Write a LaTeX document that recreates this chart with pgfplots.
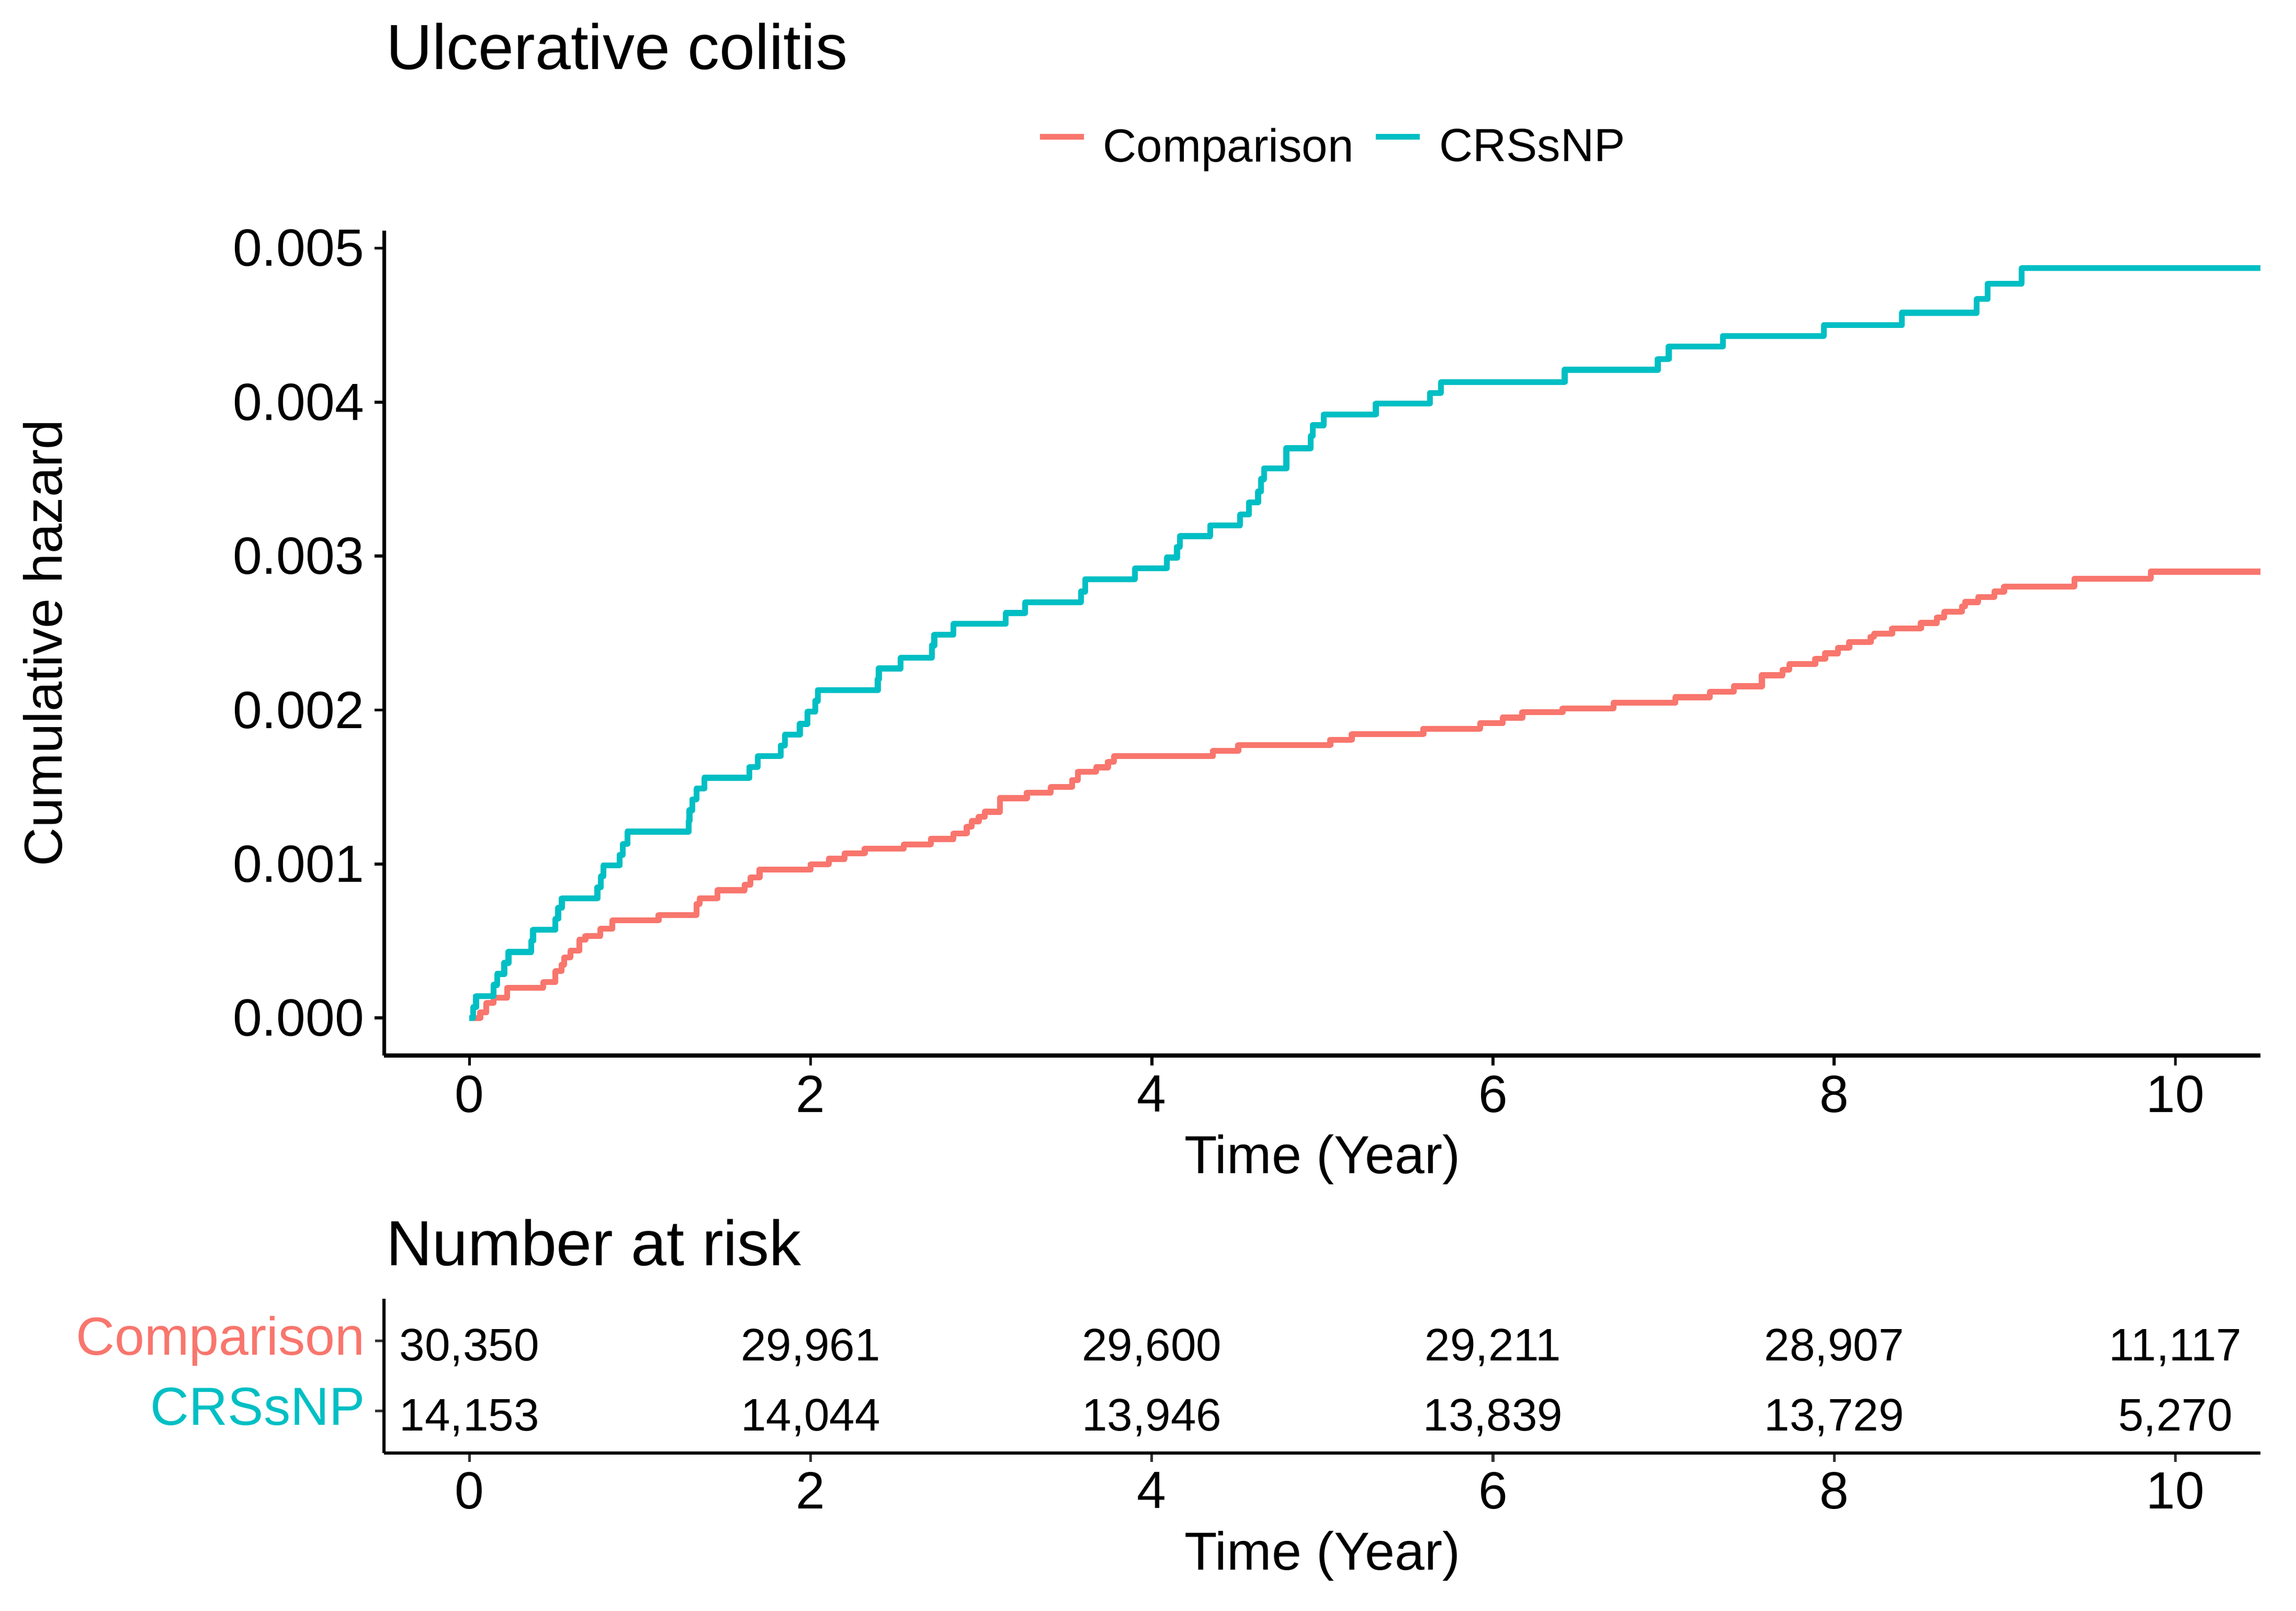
\documentclass[border=0pt]{standalone}
\usepackage{fontspec}
\setmainfont{Liberation Sans}
\usepackage{pgfplots}
\usepackage{pgfplotstable}
\pgfplotsset{compat=1.18}

\definecolor{cmpred}{HTML}{F8766D}
\definecolor{crsteal}{HTML}{00BFC4}

% cumulative hazard, comparison group (step values after each jump)
\pgfplotstableread{
t h
0 0
0.063 0.000036
0.099 0.000097
0.141 0.000132
0.222 0.000197
0.433 0.000233
0.504 0.000304
0.539 0.000347
0.556 0.000394
0.592 0.000437
0.644 0.000508
0.680 0.000533
0.768 0.000580
0.838 0.000634
1.109 0.000669
1.331 0.000741
1.349 0.000777
1.454 0.000830
1.613 0.000866
1.648 0.000913
1.701 0.000963
2.000 0.000999
2.106 0.001034
2.200 0.001070
2.317 0.001099
2.546 0.001127
2.704 0.001163
2.838 0.001199
2.915 0.001242
2.944 0.001278
2.986 0.001306
3.021 0.001339
3.109 0.001428
3.268 0.001464
3.408 0.001500
3.532 0.001546
3.567 0.001600
3.673 0.001628
3.743 0.001664
3.778 0.001700
4.359 0.001736
4.507 0.001772
5.046 0.001807
5.172 0.001843
5.592 0.001879
5.924 0.001915
6.057 0.001951
6.172 0.001986
6.408 0.002011
6.706 0.002047
7.069 0.002083
7.271 0.002119
7.412 0.002155
7.576 0.002226
7.698 0.002262
7.737 0.002298
7.889 0.002334
7.947 0.002369
8.023 0.002405
8.088 0.002441
8.214 0.002477
8.233 0.002495
8.340 0.002530
8.508 0.002566
8.603 0.002602
8.645 0.002638
8.748 0.002674
8.767 0.002702
8.844 0.002734
8.939 0.002770
8.996 0.002802
9.408 0.002853
9.855 0.002899
10.5 0.002899
}\comparison

% cumulative hazard, CRSsNP group
\pgfplotstableread{
t h
0 0
0.021 0.000070
0.039 0.000143
0.141 0.000215
0.162 0.000286
0.204 0.000358
0.229 0.000429
0.363 0.000501
0.373 0.000573
0.504 0.000644
0.520 0.000716
0.542 0.000777
0.750 0.000848
0.770 0.000920
0.785 0.000991
0.880 0.001060
0.900 0.001130
0.926 0.001210
1.285 0.001280
1.290 0.001350
1.306 0.001420
1.331 0.001490
1.377 0.001560
1.641 0.001630
1.690 0.001700
1.824 0.001770
1.849 0.001840
1.937 0.001910
1.982 0.001990
2.028 0.002060
2.042 0.002130
2.394 0.002200
2.400 0.002270
2.528 0.002340
2.711 0.002420
2.725 0.002490
2.838 0.002560
3.144 0.002630
3.257 0.002700
3.585 0.002770
3.609 0.002850
3.901 0.002920
4.088 0.002990
4.148 0.003060
4.165 0.003130
4.342 0.003200
4.518 0.003270
4.570 0.003350
4.623 0.003420
4.641 0.003500
4.658 0.003570
4.789 0.003700
4.931 0.003780
4.943 0.003850
5.008 0.003920
5.313 0.003990
5.630 0.004060
5.695 0.004130
6.420 0.004210
6.966 0.004280
7.030 0.004360
7.347 0.004430
7.939 0.004500
8.397 0.004580
8.836 0.004670
8.900 0.004770
9.099 0.004870
10.5 0.004870
}\crssnp

% number at risk (row 2 = Comparison, row 1 = CRSsNP)
\pgfplotstableread{
t row n
0 2 30,350
2 2 29,961
4 2 29,600
6 2 29,211
8 2 28,907
10 2 11,117
0 1 14,153
2 1 14,044
4 1 13,946
6 1 13,839
8 1 13,729
10 1 5,270
}\risk

\newcommand\ticksize{\fontsize{17.8}{20}\selectfont}
\newcommand\labsize{\fontsize{18.2}{21}\selectfont}
\newcommand\titsize{\fontsize{21.7}{24}\selectfont}

\begin{document}
\begin{tikzpicture}
\begin{axis}[
    name=main,
    scale only axis,
    width=637.5pt, height=280.3pt,
    xmin=-0.5, xmax=10.5,
    ymin=-0.000244, ymax=0.005114,
    axis lines=left,
    axis line style={-, line width=1.3pt},
    tick align=outside,
    major tick length=3.3pt,
    tick style={line width=1pt, black},
    xtick={0,2,4,6,8,10},
    ytick={0,0.001,0.002,0.003,0.004,0.005},
    scaled y ticks=false,
    /pgf/number format/assume math mode=true,
    yticklabel style={/pgf/number format/fixed,
        /pgf/number format/fixed zerofill,
        /pgf/number format/precision=3},
    tick label style={font=\ticksize},
    xlabel={Time (Year)},
    ylabel={Cumulative hazard},
    label style={font=\labsize},
    xlabel style={at={(axis description cs:0.5,0)}, anchor=base, yshift=-40pt},
    ylabel style={at={(axis description cs:-0.1718,0.5)}, anchor=base},
    legend columns=-1,
    legend style={at={(axis description cs:0.5046,1.1011)}, anchor=center,
        draw=none, fill=none, inner sep=0pt,
        font=\fontsize{15.8}{18}\selectfont,
        nodes={inner sep=0pt},
        /tikz/every odd column/.append style={column sep=5.5pt},
        /tikz/every even column/.append style={column sep=6.5pt}},
    legend image code/.code={\draw[#1] (0pt,0.35em) -- (15pt,0.35em);},
  ]
  \addplot[const plot, color=cmpred, line width=2pt, line join=round] table[x=t, y=h] {\comparison};
  \addlegendentry{Comparison}
  \addplot[const plot, color=crsteal, line width=2pt, line join=round] table[x=t, y=h] {\crssnp};
  \addlegendentry{CRSsNP}
\end{axis}

\begin{axis}[
    name=risk,
    at={(0pt,-135pt)}, anchor=south west,
    scale only axis,
    width=637.5pt, height=52.4pt,
    xmin=-0.5, xmax=10.5,
    ymin=0.4, ymax=2.6,
    axis lines=left,
    axis line style={-, line width=1pt},
    tick align=outside,
    major tick length=3pt,
    tick style={line width=0.9pt, black!80},
    xtick={0,2,4,6,8,10},
    ytick={1,2},
    yticklabels={{\color{crsteal}CRSsNP},{\color{cmpred}Comparison}},
    /pgf/number format/assume math mode=true,
    xticklabel style={font=\ticksize},
    yticklabel style={font=\fontsize{18.2}{20}\selectfont, anchor=base east, yshift=-4.9pt},
    xlabel={Time (Year)},
    label style={font=\labsize},
    xlabel style={at={(axis description cs:0.5,0)}, anchor=base, yshift=-39.7pt},
  ]
  \addplot[draw=none, mark=none, point meta=explicit symbolic,
      nodes near coords,
      nodes near coords style={anchor=base, yshift=-6.7pt, text=black,
          font=\fontsize{15.5}{18}\selectfont}]
      table[x=t, y=row, meta=n] {\risk};
\end{axis}

\node[anchor=base west, font=\titsize, inner sep=0pt] at ([xshift=0.5pt, yshift=54.75pt]main.north west) {Ulcerative colitis};
\node[anchor=base west, font=\titsize, inner sep=0pt] at ([xshift=0.5pt, yshift=11.25pt]risk.north west) {Number at risk};

\pgfresetboundingbox
\path[use as bounding box] (-130.5pt,-188.7pt) rectangle (649.5pt,358.65pt);
\end{tikzpicture}
\end{document}
